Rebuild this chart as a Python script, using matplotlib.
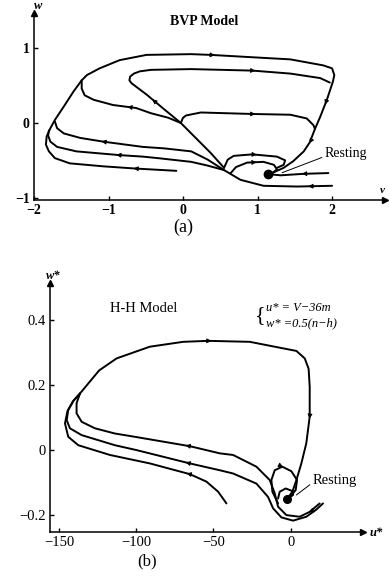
import matplotlib
matplotlib.use('Agg')
import matplotlib.pyplot as plt

plt.rcParams['font.family'] = ['Liberation Serif', 'DejaVu Serif']

# ---------------- Panel (a): BVP model ----------------
a_xticks = [-2, -1, 0, 1, 2]
a_xticklabels = ['\u22122', '\u22121', '0', '1', '2']
a_yticks = [-1, 0, 1]
a_yticklabels = ['\u22121', '0', '1']
a_rest = (1.14, -0.68)

a_outer_x = [-0.09, -0.63, -1.07, -1.52, -1.72, -1.80, -1.84, -1.83, -1.78, -1.72, -1.60, -1.47,
             -1.36, -1.29, -1.12, -0.85, -0.49, 0.11, 0.37, 1.08, 1.44, 1.88, 2.00, 2.03, 2.01,
             1.93, 1.84, 1.77, 1.70, 1.62, 1.48, 1.35, 1.26, 1.17]
a_outer_y = [-0.64, -0.61, -0.58, -0.54, -0.47, -0.38, -0.29, -0.18, -0.07, 0.04, 0.22, 0.42,
             0.57, 0.64, 0.73, 0.84, 0.91, 0.92, 0.91, 0.87, 0.85, 0.77, 0.73, 0.64, 0.55,
             0.31, 0.08, -0.08, -0.26, -0.38, -0.51, -0.60, -0.64, -0.68]
a_s2_x = [2.00, 1.53, 1.08, 0.77, 0.55, 0.33, 0.11, -0.34, -0.54, -0.85, -1.43, -1.69, -1.78, -1.81, -1.80]
a_s2_y = [-0.84, -0.85, -0.84, -0.76, -0.63, -0.57, -0.52, -0.47, -0.45, -0.43, -0.38, -0.32, -0.25, -0.17, -0.10]
a_s3_x = [0.55, 0.33, 0.11, -0.25, -0.54, -1.07, -1.38, -1.60, -1.69, -1.72]
a_s3_y = [-0.63, -0.49, -0.38, -0.34, -0.32, -0.25, -0.20, -0.14, -0.07, 0.02]
a_s4_x = [0.55, 0.37, 0.15, -0.03, -0.25, -0.49, -0.69, -0.72, -0.71, -0.66, -0.58, -0.43, 0.11,
          0.93, 1.44, 1.84, 1.97]
a_s4_y = [-0.60, -0.40, -0.18, 0.00, 0.18, 0.38, 0.53, 0.57, 0.62, 0.66, 0.69, 0.71, 0.72,
          0.70, 0.66, 0.60, 0.54]
a_s5_x = [-0.03, -0.20, -0.43, -0.63, -0.94, -1.20, -1.32, -1.36, -1.36]
a_s5_y = [0.00, 0.07, 0.13, 0.20, 0.24, 0.31, 0.37, 0.46, 0.57]
a_s6_x = [-0.03, 0.00, 0.04, 0.24, 0.93, 1.44, 1.66, 1.75, 1.77]
a_s6_y = [0.00, 0.07, 0.10, 0.14, 0.12, 0.11, 0.06, -0.03, -0.08]
a_loop1_x = [0.55, 0.60, 0.68, 0.93, 1.26, 1.37, 1.35, 1.26]
a_loop1_y = [-0.60, -0.49, -0.44, -0.42, -0.45, -0.50, -0.56, -0.60]
a_loop2_x = [0.64, 0.71, 0.86, 1.08, 1.22, 1.26, 1.20]
a_loop2_y = [-0.67, -0.59, -0.53, -0.52, -0.56, -0.62, -0.67]
a_in_x = [1.95, 1.62, 1.31, 1.20]
a_in_y = [-0.67, -0.68, -0.70, -0.69]

a_curves = [
    (a_outer_x, a_outer_y, [1, 18, 25.2, 28]),
    (a_s2_x, a_s2_y, [0.6, 9]),
    (a_s3_x, a_s3_y, [5]),
    (a_s4_x, a_s4_y, [4.6, 13]),
    (a_s5_x, a_s5_y, [3.3]),
    (a_s6_x, a_s6_y, [4]),
    (a_loop1_x, a_loop1_y, [3.1]),
    (a_loop2_x, a_loop2_y, [2.5]),
    (a_in_x, a_in_y, [1.0]),
]

# ---------------- Panel (b): H-H model ----------------
b_xticks = [-150, -100, -50, 0]
b_xticklabels = ['\u2212150', '\u2212100', '\u221250', '0']
b_yticks = [-0.2, 0, 0.2, 0.4]
b_yticklabels = ['\u22120.2', '0', '0.2', '0.4']
b_rest = (-2.4, -0.149)

b_outer_x = [-136.4, -131.0, -124.0, -112.7, -91.2, -69.6, -53.4, -26.5, -5.0, 3.7, 9.1, 11.6,
             12.3, 12.3, 10.1, 6.9, 3.7, 1.1, -1.7]
b_outer_y = [0.174, 0.205, 0.245, 0.282, 0.318, 0.333, 0.336, 0.333, 0.313, 0.305, 0.282, 0.250,
             0.195, 0.103, 0.021, -0.041, -0.092, -0.128, -0.146]
b_l1_x = [18.75, 12.28, 5.82, -2.80, -8.19, -10.34, -13.58, -22.20, -37.28, -45.91, -65.30,
          -99.8, -113.8, -126.7, -135.3, -138.6, -138.6, -136.4]
b_l1_y = [-0.164, -0.190, -0.205, -0.200, -0.174, -0.133, -0.092, -0.051, -0.015, -0.010, 0.012,
          0.040, 0.051, 0.067, 0.087, 0.113, 0.144, 0.174]
b_l2_x = [20.91, 16.59, 10.13, 1.51, -6.03, -11.42, -14.66, -22.20, -37.28, -45.91, -65.30,
          -99.8, -113.8, -135.3, -142.9, -145.0, -144.0, -140.5, -136.4]
b_l2_y = [-0.164, -0.183, -0.205, -0.217, -0.207, -0.179, -0.144, -0.103, -0.072, -0.062, -0.041,
          0.000, 0.015, 0.046, 0.067, 0.092, 0.123, 0.152, 0.174]
b_l3_x = [-41.59, -46.98, -54.53, -65.30, -91.16, -117.0, -137.5, -144.0, -146.1, -144.5,
          -141.0, -136.4]
b_l3_y = [-0.164, -0.128, -0.097, -0.074, -0.041, -0.015, 0.015, 0.041, 0.082, 0.120, 0.150, 0.174]
b_loop_x = [-8.19, -11.85, -12.50, -10.34, -5.39, 0.43, 4.09, 3.23, -0.65]
b_loop_y = [-0.164, -0.128, -0.092, -0.062, -0.051, -0.065, -0.092, -0.123, -0.144]
b_small_x = [-8.19, -7.11, -3.23, 1.08, 1.51, -1.08]
b_small_y = [-0.149, -0.128, -0.118, -0.126, -0.138, -0.147]

b_curves = [
    (b_outer_x, b_outer_y, [6, 13]),
    (b_l1_x, b_l1_y, [1, 10]),
    (b_l2_x, b_l2_y, [10]),
    (b_l3_x, b_l3_y, [3]),
    (b_loop_x, b_loop_y, [4]),
    (b_small_x, b_small_y, []),
]


def draw_curves(ax, curves, lw):
    for xs, ys, arrows in curves:
        ax.plot(xs, ys, color='k', lw=lw, solid_joinstyle='round',
                solid_capstyle='round', clip_on=False)
        for p in arrows:
            i = int(p)
            f = p - i
            dx = xs[i + 1] - xs[i]
            dy = ys[i + 1] - ys[i]
            px = xs[i] + f * dx
            py = ys[i] + f * dy
            ax.annotate('', xy=(px + 0.08 * dx, py + 0.08 * dy), xytext=(px, py),
                        arrowprops=dict(arrowstyle='-|>', color='k', lw=0.6,
                                        mutation_scale=7, shrinkA=0, shrinkB=0))


def style_axes(ax, lw):
    for s in ['top', 'right']:
        ax.spines[s].set_visible(False)
    for s in ['left', 'bottom']:
        ax.spines[s].set_linewidth(lw)
    ax.tick_params(direction='in', length=3, width=1, pad=3)
    ax.plot([1], [0], marker='>', ms=4, color='k', transform=ax.transAxes, clip_on=False)
    ax.plot([0], [1], marker='^', ms=4, color='k', transform=ax.transAxes, clip_on=False)
    ax.set_facecolor('none')


fig = plt.figure(figsize=(3.89, 5.86), dpi=100)

# ---- (a)
axA = fig.add_axes([34 / 389, 386 / 586, 351 / 389, 187 / 586])
axA.set_xlim(-1.97, 2.71)
axA.set_ylim(-1.03, 1.47)
style_axes(axA, 1.1)
axA.set_xticks(a_xticks)
axA.set_xticklabels(a_xticklabels, fontsize=10, fontweight='bold')
axA.set_yticks(a_yticks)
axA.set_yticklabels(a_yticklabels, fontsize=10, fontweight='bold')
draw_curves(axA, a_curves, 1.4)
axA.plot([a_rest[0]], [a_rest[1]], 'o', color='k', ms=6)
axA.annotate('Resting', xy=(1.33, -0.665), xytext=(1.90, -0.413), fontsize=10,
             ha='left', va='center',
             arrowprops=dict(arrowstyle='-', color='k', lw=0.7, shrinkA=0, shrinkB=0,
                             relpos=(0, 0.3)))
axA.text(0.28, 1.35, 'BVP Model', fontsize=10, fontweight='bold', ha='center', va='center')
axA.text(-1.94, 1.48, 'w', fontsize=9, fontweight='bold', style='italic', ha='center', va='bottom')
axA.text(2.71, -0.96, 'v', fontsize=8, fontweight='bold', style='italic', ha='right', va='bottom')
axA.text(0.0, -1.39, '(a)', fontsize=13, ha='center', va='center')

# ---- (b)
axB = fig.add_axes([50 / 389, (586 - 531.7) / 586, 313 / 389, 248.4 / 586])
axB.set_xlim(-155.8, 46.8)
axB.set_ylim(-0.251, 0.513)
style_axes(axB, 1.1)
axB.set_xticks(b_xticks)
axB.set_xticklabels(b_xticklabels, fontsize=10.5)
axB.set_yticks(b_yticks)
axB.set_yticklabels(b_yticklabels, fontsize=10.5)
draw_curves(axB, b_curves, 1.4)
axB.plot([b_rest[0]], [b_rest[1]], 'o', color='k', ms=5.5)
axB.annotate('Resting', xy=(3.7, -0.138), xytext=(14.2, -0.092), fontsize=10.5,
             ha='left', va='center',
             arrowprops=dict(arrowstyle='-', color='k', lw=0.7, shrinkA=0, shrinkB=0,
                             relpos=(0, 0.3)))
axB.text(-117.0, 0.437, 'H-H Model', fontsize=10.5, ha='left', va='center')
axB.text(-19.5, 0.414, '{', fontsize=16, ha='center', va='center', fontweight='light')
axB.text(-16.2, 0.437, 'u* = V\u221236m', fontsize=9, style='italic', ha='left', va='center')
axB.text(-16.2, 0.391, 'w* =0.5(n\u2212h)', fontsize=9, style='italic', ha='left', va='center')
axB.text(-153.9, 0.535, 'w*', fontsize=9, fontweight='bold', style='italic', ha='center', va='center')
axB.text(51.0, -0.255, 'u*', fontsize=9, fontweight='bold', style='italic', ha='left', va='center')
axB.text(-93.1, -0.342, '(b)', fontsize=12, ha='center', va='center')

fig.savefig('out.png', dpi=100)
